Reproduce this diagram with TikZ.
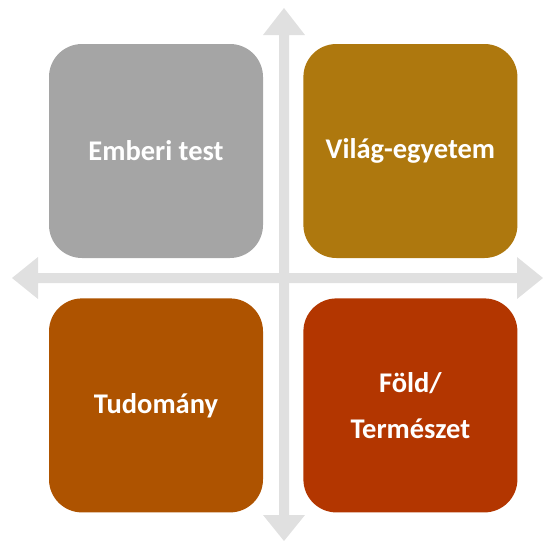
\documentclass[tikz,border=0pt]{standalone}
\usepackage{fontspec}
\setmainfont{Carlito}
\usetikzlibrary{positioning}
\definecolor{axisgray}{HTML}{E0E0E0}
\definecolor{tilegray}{HTML}{A5A5A5}
\definecolor{tilegold}{HTML}{AE780E}
\definecolor{tilebrown}{HTML}{AE5300}
\definecolor{tilered}{HTML}{B33600}
\tikzset{
  tile/.style={rounded corners=33pt,minimum width=214pt,minimum height=214pt,
    text=white,font=\bfseries\fontsize{28.5}{46}\selectfont,align=center,inner sep=0pt},
  axis/.style={fill=axisgray}
}
\begin{document}
\begin{tikzpicture}[x=1pt,y=-1pt]
  \useasboundingbox (0,0) rectangle (544,542);
  % vertical axis
  \fill[axis] (279,35) -- (263,35) -- (284,8) -- (305,35) -- (289,35)
    -- (289,515) -- (305,515) -- (284,541) -- (263,515) -- (279,515) -- cycle;
  % horizontal axis
  \fill[axis] (38,273) -- (38,257) -- (12,278) -- (38,299) -- (38,283)
    -- (517,283) -- (517,299) -- (543,278) -- (517,257) -- (517,273) -- cycle;
  % tiles
  \node[tile,fill=tilegray] (body) at (156,151) {Emberi test};
  \node[tile,fill=tilegold,right=40pt of body] (cosmos) {Világ-egyetem};
  \node[tile,fill=tilebrown,below=40pt of body] (science) {Tudomány};
  \node[tile,fill=tilered,right=40pt of science] (earth) {Föld/\\Természet};
\end{tikzpicture}
\end{document}
